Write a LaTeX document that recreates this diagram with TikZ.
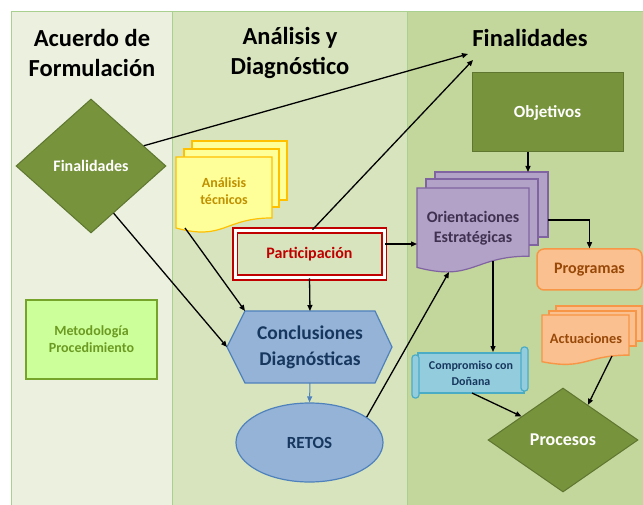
\documentclass[tikz,border=0pt]{standalone}
\usepackage{fontspec}
\setmainfont{Carlito}
\usetikzlibrary{shapes.geometric,arrows.meta,calc}
\definecolor{bgA}{HTML}{EBF1DE}
\definecolor{bgB}{HTML}{D7E4BD}
\definecolor{bgC}{HTML}{C3D69B}
\definecolor{panelline}{HTML}{A9D08E}
\definecolor{olive}{HTML}{77933C}
\definecolor{olivedark}{HTML}{5E7630}
\definecolor{limefill}{HTML}{CCFF99}
\definecolor{limeline}{HTML}{76A32A}
\definecolor{limetext}{HTML}{6B9A22}
\definecolor{yelfill}{HTML}{FFFF99}
\definecolor{yelline}{HTML}{FFC000}
\definecolor{yeltext}{HTML}{BF9000}
\definecolor{redc}{HTML}{C00000}
\definecolor{bluefill}{HTML}{95B3D7}
\definecolor{blueline}{HTML}{4F81BD}
\definecolor{bluetext}{HTML}{17375E}
\definecolor{purfill}{HTML}{B3A2C7}
\definecolor{purline}{HTML}{8064A2}
\definecolor{purtext}{HTML}{403151}
\definecolor{orfill}{HTML}{FAC090}
\definecolor{orline}{HTML}{F79646}
\definecolor{ortext}{HTML}{984807}
\definecolor{cyfill}{HTML}{93CDDD}
\definecolor{cyline}{HTML}{4BACC6}
\newcommand\docu[5]{\draw[#1] (#2,#4) -- (#3,#4) -- (#3,{#4+0.802*#5}) .. controls ({(#2+#3)/2},{#4+0.802*#5}) and ({(#2+#3)/2},{#4+1.107*#5}) .. (#2,{#4+0.934*#5}) -- cycle;}
\tikzset{
  hdr/.style={align=center, text=black, font=\fontsize{24.5}{30}\selectfont\bfseries},
  conn/.style={draw=black, line width=1.3pt, -{Triangle[length=6pt,width=5pt]}},
  yel/.style={fill=yelfill, draw=yelline, line width=1.2pt},
  pur/.style={fill=purfill, draw=purline, line width=1.2pt},
  orst/.style={fill=orfill, draw=orline, line width=1.4pt},
  cy/.style={fill=cyfill, draw=cyline, line width=1.2pt},
  olivebox/.style={fill=olive, draw=olivedark, line width=1pt, text=white, inner sep=0pt},
}
\begin{document}
\begin{tikzpicture}[x=1pt,y=-1pt]
\useasboundingbox (0,0) rectangle (643,505);
\fill[white] (0,0) rectangle (643,505);
% panels
\draw[panelline, fill=bgA, line width=1pt] (11,12) rectangle (172,507);
\draw[panelline, fill=bgB, line width=1pt] (172,12) rectangle (407,507);
\draw[panelline, fill=bgC, line width=1pt] (407,12) rectangle (645,507);
% headers
\node[hdr] (hA) at (92,53) {Acuerdo de\\Formulación};
\node[hdr] (hB) at (290,53) {Análisis y\\Diagnóstico};
\node[hdr] (hC) at (530,38) {Finalidades};
% left diamond
\node[olivebox, diamond, minimum width=150pt, minimum height=134pt, font=\fontsize{16}{19}\selectfont\bfseries] (finL) at (91,166) {Finalidades};
% metodologia
\node[fill=limefill, draw=limeline, line width=1.8pt, minimum width=131pt, minimum height=79pt, text=limetext, align=center, font=\fontsize{14}{17}\selectfont\bfseries] (met) at (91.5,339.5) {Metodología\\Procedimiento};
% analisis tecnicos
\draw[yel] (192,141) rectangle (287,200);
\draw[yel] (184,149) rectangle (279,207);
\docu{yel}{176}{272}{157}{76}
\node[text=yeltext, align=center, font=\fontsize{14}{17}\selectfont\bfseries] (ana) at (224,191.5) {Análisis\\técnicos};
% participacion
\node[draw=redc, line width=1.6pt, double=white, double distance=3pt, fill=bgB, minimum width=149pt, minimum height=47pt, text=redc, font=\fontsize{16}{19}\selectfont\bfseries] (part) at (309.5,254) {Participación};
% hexagon
\coordinate (hexW) at (227,347);
\coordinate (hexNW) at (245,311);
\draw[fill=bluefill, draw=blueline, line width=1.2pt] (hexW) -- (hexNW) -- (375,311) -- (392,347) -- (375,383) -- (245,383) -- cycle;
\node[minimum width=165pt, minimum height=72pt, inner sep=0pt, outer sep=0pt, text=bluetext, align=center, font=\fontsize{19.5}{26}\selectfont\bfseries] (concl) at (310,347) {Conclusiones\\Diagnósticas};
% retos
\node[ellipse, fill=bluefill, draw=blueline, line width=1.2pt, minimum width=147pt, minimum height=79pt, text=bluetext, font=\fontsize{17}{20}\selectfont\bfseries] (retos) at (309.5,442.5) {RETOS};
% objetivos
\node[olivebox, minimum width=151pt, minimum height=79pt, font=\fontsize{17}{20}\selectfont\bfseries] (obj) at (547.5,112.5) {Objetivos};
% orientaciones
\draw[pur] (435,172) rectangle (548,237);
\draw[pur] (426,179) rectangle (538,245);
\docu{pur}{417}{529}{188}{85}
\node[text=purtext, align=center, font=\fontsize{16}{20}\selectfont\bfseries] (ori) at (473,228) {Orientaciones\\Estratégicas};
% programas
\node[rounded corners=7pt, fill=orfill, draw=orline, line width=1.5pt, minimum width=105pt, minimum height=41pt, text=ortext, font=\fontsize{16}{19}\selectfont\bfseries] (prog) at (589.5,269.5) {Programas};
% actuaciones
\draw[orst] (556,306) rectangle (642,341);
\draw[orst] (549,311) rectangle (636,346);
\docu{orst}{542}{629}{315}{50}
\node[text=ortext, font=\fontsize{14.3}{17}\selectfont\bfseries] (act) at (586,339) {Actuaciones};
% compromiso scroll
\draw[cy] (418,353) rectangle (524,393);
\draw[cy, rounded corners=3pt] (521,347) rectangle (528,391);
\draw[cy, rounded corners=3pt] (412,355) rectangle (419,398);
\node[text=bluetext, align=center, font=\fontsize{12}{16}\selectfont\bfseries] (comp) at (471,373) {Compromiso con\\Doñana};
% procesos
\node[olivebox, diamond, minimum width=150pt, minimum height=104pt, font=\fontsize{18}{21}\selectfont\bfseries] (proc) at (563,440) {Procesos};
% connectors
\coordinate (tipA) at (468,54);
\coordinate (tipB) at (473,60);
\coordinate (anaBL) at (185,228);
\coordinate (oriL) at (417,244);
\coordinate (oriB) at (449,272);
\coordinate (oriT) at (528,172);
\coordinate (oriR) at (548,220);
\coordinate (oriS) at (493,261);
\coordinate (compT) at (493,352);
\coordinate (compB) at (472,393);
\coordinate (actB) at (612,356);
\draw[conn] ($(finL.north)!0.7!(finL.east)$) -- (tipA);
\draw[conn] ([xshift=3pt]part.north) -- (tipB);
\draw[conn] ($(finL.south)!0.3!(finL.east)$) -- (hexW);
\draw[conn] (anaBL) -- (hexNW);
\draw[conn] (part.south) -- (concl.north);
\draw[conn, draw=blueline, line width=1pt] (concl.south) -- (retos.north);
\draw[conn] (oriL -| part.east) -- (oriL);
\draw[conn] (retos.24) -- (oriB);
\draw[conn] (oriT |- obj.south) -- (oriT);
\draw[conn] (oriR) -| (prog.north);
\draw[conn] (oriS) -- (compT);
\draw[conn] (compB) -- ($(proc.north)!0.55!(proc.west)$);
\draw[conn] (actB) -- ($(proc.north)!0.33!(proc.east)$);
\end{tikzpicture}
\end{document}
